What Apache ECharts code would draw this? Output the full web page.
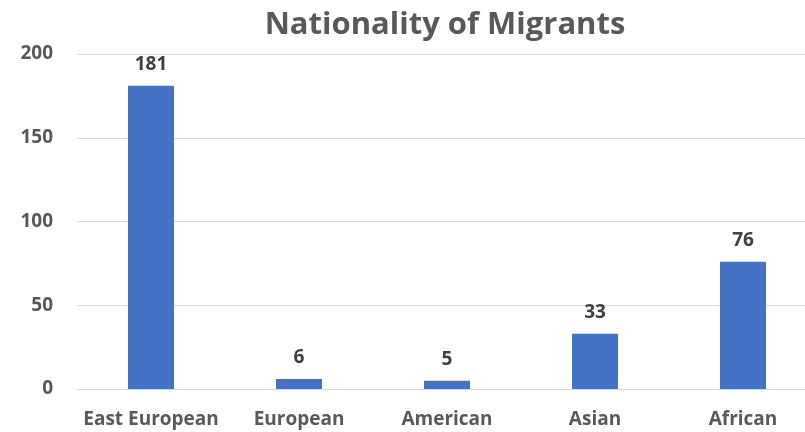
<!DOCTYPE html>
<html>
<head>
<meta charset="utf-8">
<script src="https://cdn.jsdelivr.net/npm/echarts@6/dist/echarts.min.js"></script>
<style>html,body{margin:0;padding:0;background:#fff;overflow:hidden;width:805px;height:432px}#c{width:818px;height:432px}</style>
</head>
<body>
<div id="c"></div>
<script>
const categories = ["East European", "European", "American", "Asian", "African"];
const values = [181, 6, 5, 33, 76];
const yTicks = [0, 50, 100, 150, 200];

const chart = echarts.init(document.getElementById('c'), null, {renderer: 'canvas'});
const font = 'Open Sans';
chart.setOption({
  animation: false,
  title: {
    text: 'Nationality of Migrants',
    left: 440, top: 5, textAlign: 'center',
    textStyle: {fontFamily: font, fontWeight: 'bold', fontSize: 31, color: '#595959'}
  },
  grid: {left: 77, top: 54, right: 1, bottom: 43, containLabel: false},
  xAxis: {
    type: 'category', data: categories,
    axisLine: {show: true, lineStyle: {color: '#d9d9d9', width: 1}},
    axisTick: {show: false},
    axisLabel: {interval: 0, fontFamily: font, fontWeight: 'bold', fontSize: 19, color: '#595959', margin: 21}
  },
  yAxis: {
    type: 'value', min: yTicks[0], max: yTicks[yTicks.length - 1], interval: 50,
    axisLine: {show: false}, axisTick: {show: false},
    splitLine: {lineStyle: {color: '#d9d9d9', width: 1}},
    axisLabel: {fontFamily: font, fontWeight: 'bold', fontSize: 19, color: '#595959', margin: 24}
  },
  series: [{
    type: 'bar', data: values, barWidth: 46,
    itemStyle: {color: '#4472c4'},
    label: {show: true, position: 'top', distance: 12, fontFamily: font, fontWeight: 'bold', fontSize: 19, color: '#404040'}
  }]
});
</script>
</body>
</html>
